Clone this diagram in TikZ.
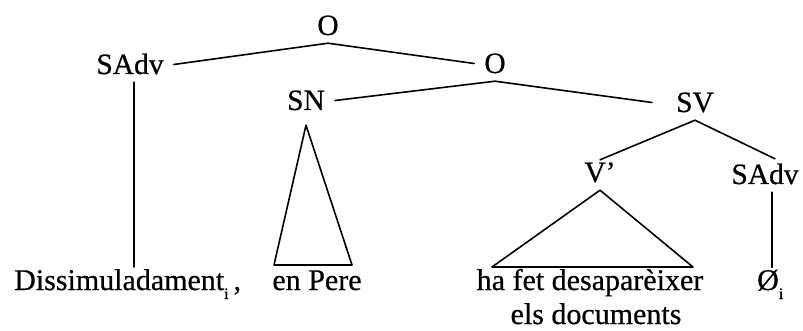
\documentclass[tikz,border=0pt]{standalone}
\usepackage{fontspec}
\setmainfont[FakeBold=0.6]{Liberation Serif}
\begin{document}
\begin{tikzpicture}[x=1pt,y=-1pt,
  lab/.style={anchor=base, inner xsep=10pt, inner ysep=8pt, text height=19pt, text depth=0pt, font=\fontsize{29.5}{34}\selectfont},
  leaf/.style={anchor=base, inner sep=2pt, font=\fontsize{30}{34}\selectfont},
  edge/.style={line width=1.6pt, line join=round, line cap=round}]
\useasboundingbox (0,0) rectangle (803,331);
% phrase labels
\node[lab] (o) at (328,35) {O};
\node[lab] (sadv) at (130,74) {SAdv};
\node[lab] (o2) at (495,73) {O};
\node[lab] (sn) at (306,110) {SN};
\node[lab] (sv) at (695,112) {SV};
\node[lab] (vb) at (600,182) {V’};
\node[lab] (sadv2) at (765,184) {SAdv};
% leaves
\node[leaf, anchor=base west] (dis) at (12,290) {Dissimuladament\raisebox{-9pt}{\fontsize{16}{16}\selectfont i}\,,};
\node[leaf] (pere) at (317,290) {en Pere};
\node[leaf] (ha) at (590,290) {ha fet desaparèixer};
\node[leaf] (els) at (596,324) {els documents};
\node[leaf, anchor=base west] (zero) at (755,290) {Ø\raisebox{-9pt}{\fontsize{16}{16}\selectfont i}};
% triangle corners
\coordinate (snl) at (274,265);
\coordinate (snr) at (352,265);
\coordinate (vl) at (492,267);
\coordinate (vr) at (693,267);
% branches
\draw[edge] (sadv.east) -- (o.south) -- (o2.west);
\draw[edge] (sn.east) -- (o2.south) -- ([xshift=-14pt]sv.west);
\draw[edge] ([yshift=-5pt]vb.north) -- (sv.south) -- ([xshift=10pt,yshift=-2pt]sadv2.north);
\draw[edge] ([xshift=4pt]sadv.south) -- ([xshift=4pt]sadv.south |- dis.north);
\draw[edge] ([yshift=-7pt]sn.south) -- (snl) -- (snr) -- cycle;
\draw[edge] (vb.south) -- (vl) -- (vr) -- cycle;
\draw[edge] ([xshift=7pt]sadv2.south) -- ([xshift=7pt]sadv2.south |- zero.north);
\end{tikzpicture}
\end{document}
